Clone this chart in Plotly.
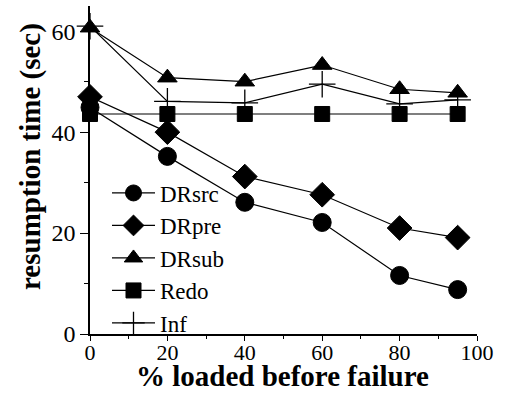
import plotly.graph_objects as go

x_vals = [0, 20, 40, 60, 80, 95]
dr_src = [44.9, 35.2, 26.1, 22.1, 11.6, 8.8]
dr_pre = [47.0, 40.0, 31.2, 27.6, 21.0, 19.1]
dr_sub = [60.7, 50.8, 50.0, 53.3, 48.5, 47.8]
redo = [43.6, 43.6, 43.6, 43.6, 43.6, 43.6]
inf = [61.0, 46.1, 45.8, 49.5, 45.6, 46.4]

series = [
    ("DRsrc", dr_src, "circle", 18, 1.0),
    ("DRpre", dr_pre, "diamond", 19, 1.0),
    ("DRsub", dr_sub, "triangle-up", 17, 1.0),
    ("Redo", redo, "square", 15, 1.0),
    ("Inf", inf, "cross-thin", 19, 1.3),
]
x_title = "<b>% loaded before failure</b>"
y_title = "<b>resumption time (sec)</b>"

legend_y_px = [193, 225.5, 258, 290.5, 323]

W, H = 515, 394
ml, mr, mt, mb = 90, 38, 6, 60
pw = W - ml - mr
ph = H - mt - mb

fig = go.Figure()
for i, (name, vals, sym, sz, lw) in enumerate(series):
    lg = "legend" if i == 0 else f"legend{i+1}"
    fig.add_trace(go.Scatter(
        x=x_vals, y=vals, name=name, mode="lines+markers",
        line=dict(color="black", width=1.2),
        marker=dict(symbol=sym, size=sz, color="black",
                    line=dict(color="black", width=lw)),
        cliponaxis=False, legend=lg,
    ))

font_family = "Liberation Serif, Times New Roman, serif"
layout_legends = {}
for i, py in enumerate(legend_y_px):
    key = "legend" if i == 0 else f"legend{i+1}"
    layout_legends[key] = dict(
        x=(107 - ml) / pw, xanchor="left",
        y=(H - mb - py) / ph, yanchor="middle",
        bgcolor="rgba(0,0,0,0)", borderwidth=0,
        font=dict(family=font_family, size=23, color="black"),
        itemwidth=43, itemsizing="trace",
    )

fig.update_layout(
    width=W, height=H,
    margin=dict(l=ml, r=mr, t=mt, b=mb, autoexpand=False),
    paper_bgcolor="white", plot_bgcolor="white",
    font=dict(family=font_family, color="black"),
    showlegend=True,
    **layout_legends,
)

# axis titles as annotations (paper coordinates)
fig.add_annotation(text=x_title, xref="paper", yref="paper",
                   x=(282.5 - ml) / pw, y=(H - mb - 394) / ph,
                   xanchor="center", yanchor="bottom", showarrow=False,
                   font=dict(family=font_family, size=29, color="black"))
fig.add_annotation(text=y_title, xref="paper", yref="paper",
                   x=(30 - ml) / pw, y=(H - mb - 157) / ph, textangle=-90,
                   xanchor="center", yanchor="middle", showarrow=False,
                   font=dict(family=font_family, size=29, color="black"))

fig.update_xaxes(
    range=[0, 100], tickvals=[0, 20, 40, 60, 80, 100],
    showgrid=False, zeroline=False, showline=True, linecolor="black", linewidth=1.5,
    ticks="outside", ticklen=5, tickwidth=1.2, tickcolor="black",
    minor=dict(tickvals=[10, 30, 50, 70, 90], ticks="outside", ticklen=3, tickwidth=1.2, tickcolor="black"),
    tickfont=dict(family=font_family, size=22, color="black"),
    ticklabelstandoff=-7,
    layer="below traces", automargin=False,
)
fig.update_yaxes(
    range=[0, 65], tickvals=[0, 20, 40, 60],
    showgrid=False, zeroline=False, showline=True, linecolor="black", linewidth=1.5,
    ticks="outside", ticklen=8, tickwidth=1.2, tickcolor="black",
    minor=dict(tickvals=[10, 30, 50], ticks="outside", ticklen=4, tickwidth=1.2, tickcolor="black"),
    tickfont=dict(family=font_family, size=24, color="black"),
    layer="below traces", automargin=False,
)

fig.write_html("out.html")
